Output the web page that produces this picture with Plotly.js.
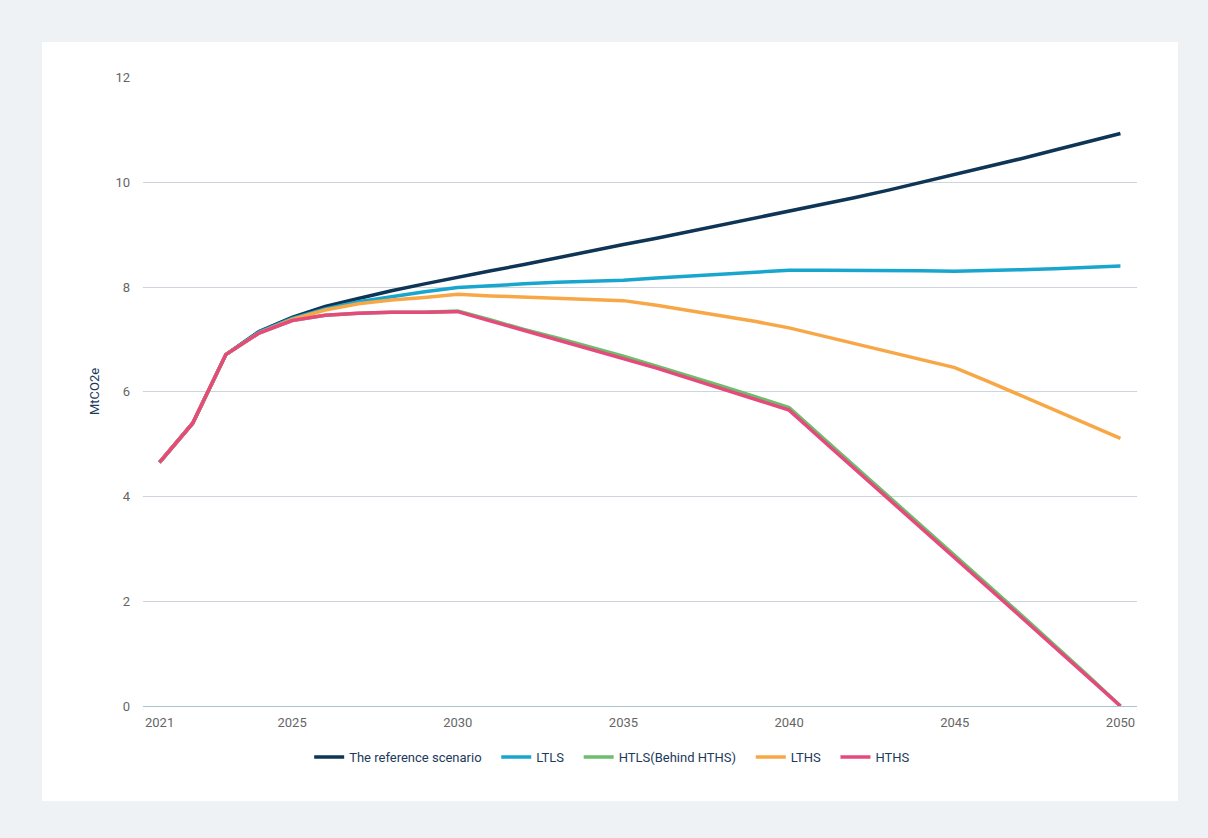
<!DOCTYPE html>
<html>
<head>
<meta charset="utf-8">
<script src="https://cdn.plot.ly/plotly-3.0.1.min.js"></script>
<style>
  html, body { margin: 0; padding: 0; background: #eff2f4; }
  #chart { position: absolute; left: 42px; top: 42px; width: 1136px; height: 759px; background: #ffffff; }
</style>
</head>
<body>
<div id="chart"></div>
<script>
// Emission pathways by scenario, 2021-2050 (MtCO2e)
const years = [2021, 2022, 2023, 2024, 2025, 2026, 2027, 2028, 2029, 2030,
               2031, 2032, 2033, 2034, 2035, 2036, 2037, 2038, 2039, 2040,
               2041, 2042, 2043, 2044, 2045, 2046, 2047, 2048, 2049, 2050];

const referenceScenario = [4.65, 5.40, 6.71, 7.15, 7.42, 7.63, 7.78, 7.93, 8.06, 8.19,
                           8.31, 8.43, 8.56, 8.68, 8.81, 8.93, 9.06, 9.19, 9.31, 9.44,
                           9.57, 9.71, 9.85, 10.00, 10.14, 10.30, 10.45, 10.61, 10.77, 10.93];

const ltls = [4.65, 5.40, 6.71, 7.14, 7.40, 7.58, 7.72, 7.82, 7.91, 7.99,
              8.03, 8.06, 8.09, 8.11, 8.13, 8.17, 8.21, 8.25, 8.29, 8.32,
              8.32, 8.32, 8.32, 8.31, 8.30, 8.31, 8.33, 8.35, 8.37, 8.40];

const htls = [4.65, 5.40, 6.71, 7.12, 7.36, 7.46, 7.50, 7.52, 7.52, 7.54,
              7.37, 7.19, 7.03, 6.86, 6.68, 6.49, 6.30, 6.10, 5.90, 5.70,
              5.13, 4.57, 4.01, 3.45, 2.88, 2.31, 1.74, 1.17, 0.59, 0.00];

const lths = [4.65, 5.40, 6.71, 7.12, 7.38, 7.56, 7.68, 7.75, 7.80, 7.86,
              7.83, 7.81, 7.79, 7.77, 7.74, 7.65, 7.55, 7.45, 7.34, 7.22,
              7.07, 6.92, 6.77, 6.62, 6.46, 6.20, 5.93, 5.65, 5.38, 5.11];

const hths = [4.65, 5.40, 6.71, 7.12, 7.36, 7.46, 7.50, 7.52, 7.52, 7.53,
              7.35, 7.17, 7.00, 6.82, 6.64, 6.45, 6.25, 6.05, 5.85, 5.65,
              5.08, 4.52, 3.96, 3.40, 2.83, 2.26, 1.70, 1.13, 0.56, 0.00];

const xTicks = [2021, 2025, 2030, 2035, 2040, 2045, 2050];
const yTicks = [0, 2, 4, 6, 8, 10, 12];

// trailing non-breaking spaces widen the gap between legend entries
const pad = '\u00a0\u00a0\u00a0';

const series = [
  { name: 'The reference scenario', y: referenceScenario, color: '#0e3456' },
  { name: 'LTLS', y: ltls, color: '#18a6cf' },
  { name: 'HTLS(Behind HTHS)', y: htls, color: '#6cbd6c' },
  { name: 'LTHS', y: lths, color: '#f8a746' },
  { name: 'HTHS', y: hths, color: '#e6497b' }
];

const traces = series.map((s, i) => ({
  type: 'scatter',
  mode: 'lines',
  name: i < series.length - 1 ? s.name + pad : s.name,
  x: years,
  y: s.y,
  line: { color: s.color, width: 3.5 },
  hoverinfo: 'x+y+name'
}));

const layout = {
  width: 1136,
  height: 759,
  paper_bgcolor: '#ffffff',
  plot_bgcolor: '#ffffff',
  margin: { l: 101, r: 41, t: 35, b: 95, autoexpand: false },
  font: { family: 'Roboto, "Noto Sans", sans-serif', size: 13, color: '#666666' },
  showlegend: true,
  legend: {
    orientation: 'h',
    x: 0.472, xanchor: 'center',
    y: -0.081, yanchor: 'middle',
    font: { size: 13, color: '#1c3a5c' },
    traceorder: 'normal',
    itemwidth: 30,
    tracegroupgap: 0
  },
  xaxis: {
    range: [2020.5, 2050.5],
    tickmode: 'array',
    tickvals: xTicks,
    ticktext: xTicks.map(String),
    showgrid: false,
    zeroline: false,
    showline: false,
    ticks: '',
    ticklabelstandoff: 7,
    tickfont: { size: 13, color: '#666666' }
  },
  yaxis: {
    range: [0, 12.01],
    tickmode: 'array',
    tickvals: yTicks,
    ticktext: yTicks.map(String),
    showgrid: true,
    gridcolor: '#cdd4db',
    gridwidth: 1,
    zeroline: true,
    zerolinecolor: '#a9c6cd',
    zerolinewidth: 1,
    showline: false,
    ticks: '',
    ticklabelstandoff: 12,
    tickfont: { size: 13, color: '#666666' },
    title: { text: 'MtCO2e', font: { size: 13, color: '#1c3a5c' }, standoff: 12 }
  }
};

Plotly.newPlot('chart', traces, layout, { displayModeBar: false, responsive: false });
</script>
</body>
</html>
